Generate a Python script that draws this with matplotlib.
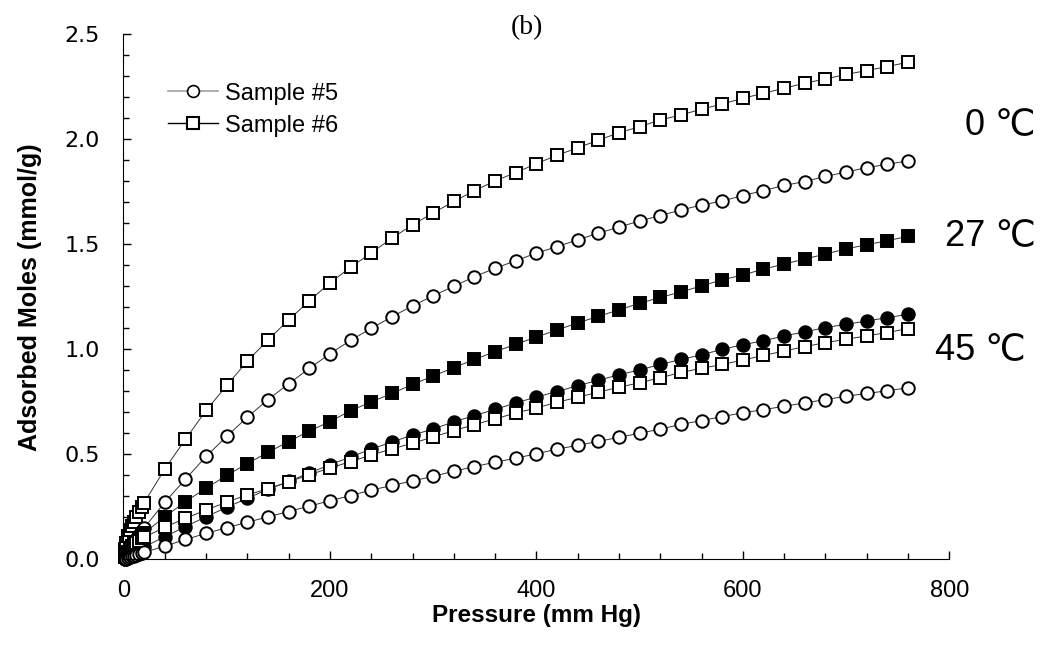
import matplotlib
matplotlib.use("Agg")
import matplotlib.pyplot as plt
from matplotlib.lines import Line2D
from matplotlib.ticker import MultipleLocator, FormatStrFormatter

plt.rcParams['font.family'] = ['Liberation Sans', 'DejaVu Sans']

# pressure points (mm Hg)
pressure = [1, 2, 4, 6, 8, 10, 12, 15, 18,
            20, 40, 60, 80, 100, 120, 140, 160, 180, 200,
            220, 240, 260, 280, 300, 320, 340, 360, 380, 400,
            420, 440, 460, 480, 500, 520, 540, 560, 580, 600,
            620, 640, 660, 680, 700, 720, 740, 760]

# sample #6, 0 C (open squares)
s6_0C = [0.05, 0.08, 0.11, 0.14, 0.16, 0.18, 0.20, 0.225, 0.25,
         0.27, 0.43, 0.572, 0.709, 0.828, 0.944, 1.045, 1.14, 1.231, 1.316,
         1.391, 1.459, 1.529, 1.593, 1.649, 1.704, 1.755, 1.802, 1.841, 1.884,
         1.924, 1.959, 1.996, 2.031, 2.06, 2.092, 2.116, 2.143, 2.168, 2.195,
         2.219, 2.243, 2.267, 2.287, 2.309, 2.327, 2.346, 2.367]

# sample #5, 0 C (open circles)
s5_0C = [0.012, 0.022, 0.04, 0.055, 0.07, 0.085, 0.098, 0.118, 0.137,
         0.15, 0.272, 0.382, 0.49, 0.586, 0.677, 0.761, 0.836, 0.909, 0.979,
         1.043, 1.10, 1.155, 1.207, 1.255, 1.30, 1.346, 1.386, 1.422, 1.458,
         1.489, 1.521, 1.553, 1.582, 1.611, 1.637, 1.663, 1.687, 1.706, 1.732,
         1.756, 1.780, 1.799, 1.823, 1.844, 1.865, 1.881, 1.897]

# sample #6, 27 C (filled squares)
s6_27C = [0.01, 0.02, 0.035, 0.05, 0.062, 0.075, 0.085, 0.10, 0.115,
          0.125, 0.203, 0.275, 0.339, 0.400, 0.456, 0.510, 0.561, 0.611, 0.656,
          0.708, 0.750, 0.790, 0.833, 0.873, 0.913, 0.952, 0.989, 1.024, 1.059,
          1.092, 1.126, 1.157, 1.188, 1.219, 1.247, 1.273, 1.302, 1.331, 1.354,
          1.382, 1.406, 1.430, 1.454, 1.478, 1.498, 1.517, 1.538]

# sample #5, 27 C (filled circles)
s5_27C = [0.004, 0.008, 0.015, 0.022, 0.028, 0.034, 0.04, 0.048, 0.056,
          0.06, 0.108, 0.156, 0.203, 0.248, 0.291, 0.334, 0.371, 0.412, 0.45,
          0.488, 0.525, 0.559, 0.592, 0.621, 0.655, 0.685, 0.714, 0.745, 0.773,
          0.799, 0.827, 0.853, 0.879, 0.902, 0.928, 0.952, 0.974, 1.0, 1.022,
          1.041, 1.064, 1.083, 1.104, 1.119, 1.135, 1.151, 1.167]

# sample #6, 45 C (open squares)
s6_45C = [0.01, 0.02, 0.035, 0.048, 0.06, 0.07, 0.078, 0.09, 0.1,
          0.105, 0.153, 0.196, 0.235, 0.273, 0.307, 0.337, 0.369, 0.403, 0.435,
          0.466, 0.497, 0.526, 0.553, 0.583, 0.613, 0.642, 0.669, 0.697, 0.721,
          0.748, 0.772, 0.796, 0.82, 0.841, 0.865, 0.89, 0.91, 0.928, 0.949,
          0.971, 0.992, 1.013, 1.032, 1.048, 1.064, 1.08, 1.099]

# sample #5, 45 C (open circles)
s5_45C = [0.002, 0.004, 0.008, 0.012, 0.015, 0.018, 0.022, 0.027, 0.031,
          0.034, 0.063, 0.095, 0.124, 0.151, 0.177, 0.203, 0.228, 0.254, 0.279,
          0.304, 0.33, 0.352, 0.374, 0.395, 0.42, 0.442, 0.463, 0.482, 0.503,
          0.525, 0.543, 0.562, 0.581, 0.601, 0.62, 0.643, 0.661, 0.68, 0.698,
          0.713, 0.729, 0.745, 0.761, 0.777, 0.79, 0.803, 0.817]

temp_labels = ['0 \u2103', '27 \u2103', '45 \u2103']

fig = plt.figure(figsize=(10.42, 6.46), dpi=100)
ax = fig.add_axes([0.1185, 0.134, 0.7925, 0.813])

line_kw = dict(color='#333333', lw=0.7, mec='black', ms=9, mew=1.4, clip_on=False)
ax.plot(pressure, s6_0C, marker='s', mfc='white', **line_kw)
ax.plot(pressure, s5_0C, marker='o', mfc='white', **line_kw)
ax.plot(pressure, s6_27C, marker='s', mfc='black', **line_kw)
ax.plot(pressure, s5_27C, marker='o', mfc='black', **line_kw)
ax.plot(pressure, s6_45C, marker='s', mfc='white', **line_kw)
ax.plot(pressure, s5_45C, marker='o', mfc='white', **line_kw)

ax.set_xlim(0, 800)
ax.set_ylim(0, 2.5)
ax.xaxis.set_major_locator(MultipleLocator(200))
ax.xaxis.set_minor_locator(MultipleLocator(40))
ax.yaxis.set_major_locator(MultipleLocator(0.5))
ax.yaxis.set_minor_locator(MultipleLocator(0.1))
ax.yaxis.set_major_formatter(FormatStrFormatter('%.1f'))
ax.tick_params(which='both', direction='in', width=1)
ax.tick_params(which='major', length=6)
ax.tick_params(which='minor', length=4)
ax.tick_params(axis='y', pad=17, labelsize=16)
ax.tick_params(axis='x', pad=15, labelsize=17)
for lab in ax.get_yticklabels():
    lab.set_family('DejaVu Sans')
ax.spines['top'].set_visible(False)
ax.spines['right'].set_visible(False)

ax.set_xlabel('Pressure (mm Hg)', fontsize=17.5, fontweight='bold')
ax.set_ylabel('Adsorbed Moles (mmol/g)', fontsize=18, fontweight='bold')
ax.xaxis.set_label_coords(0.5, -0.085)
ax.yaxis.set_label_coords(-0.099, 0.5)

handles = [Line2D([], [], color='#a0a0a0', lw=1.2, marker='o', mfc='white', mec='black', ms=8.5, mew=1.2),
           Line2D([], [], color='black', lw=1.0, marker='s', mfc='white', mec='black', ms=8.5, mew=1.5)]
fig.legend(handles, ['Sample #5', 'Sample #6'], loc='upper left',
           bbox_to_anchor=(0.161, 0.872), frameon=False, fontsize=17,
           handlelength=2.12, handletextpad=0.3, labelspacing=0.42,
           borderpad=0, borderaxespad=0)

fig.text(0.994, 0.806, temp_labels[0], fontsize=26, ha='right', va='center')
fig.text(0.994, 0.634, temp_labels[1], fontsize=26, ha='right', va='center')
fig.text(0.985, 0.458, temp_labels[2], fontsize=26, ha='right', va='center')

fig.text(0.506, 0.957, '(b)', fontsize=20, ha='center', va='center',
         family=['Liberation Serif', 'DejaVu Serif'])

plt.savefig('out.png', dpi=100)
